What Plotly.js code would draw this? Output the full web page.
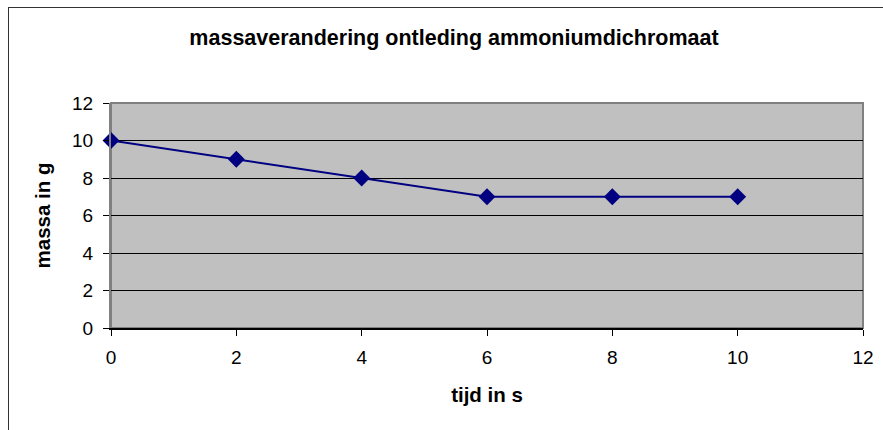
<!DOCTYPE html>
<html>
<head>
<meta charset="utf-8">
<script src="https://cdn.plot.ly/plotly-3.0.1.min.js"></script>
<style>
  html, body { margin: 0; padding: 0; background: #fff; }
  #wrap { position: relative; width: 883px; height: 430px; overflow: hidden; }
  #frame { position: absolute; left: 8px; top: 7px; width: 900px; height: 450px; border: 1.5px solid #333; box-sizing: border-box; }
  #chart { position: absolute; left: 0; top: 0; width: 883px; height: 430px; }
</style>
</head>
<body>
<div id="wrap">
  <div id="frame"></div>
  <div id="chart"></div>
</div>
<script>
const tijd = [0, 2, 4, 6, 8, 10];
const massa = [10, 9, 8, 7, 7, 7];
const chartTitle = "massaverandering ontleding ammoniumdichromaat";
const xTitle = "tijd in s";
const yTitle = "massa in g";

const trace = {
  x: tijd, y: massa, type: 'scatter', mode: 'lines+markers',
  line: { color: '#000080', width: 2 },
  marker: { symbol: 'diamond', size: 13, color: '#000080' },
  cliponaxis: false, hoverinfo: 'none'
};

const font = { family: 'Arial, "Liberation Sans", sans-serif', color: '#000' };

const layout = {
  width: 883, height: 430,
  margin: { l: 111, r: 20, t: 103, b: 102 },
  paper_bgcolor: 'rgba(0,0,0,0)',
  plot_bgcolor: '#C0C0C0',
  showlegend: false,
  font: Object.assign({ size: 19 }, font),
  title: {
    text: '<b>' + chartTitle + '</b>',
    font: Object.assign({ size: 21.5 }, font),
    x: 454 / 883, xanchor: 'center', xref: 'container',
    y: 1 - 37 / 430, yanchor: 'middle', yref: 'container'
  },
  xaxis: {
    range: [0, 12], dtick: 2, tick0: 0,
    ticks: 'outside', ticklen: 6, tickcolor: '#000', tickwidth: 1,
    ticklabelstandoff: 6,
    showgrid: false, zeroline: false,
    showline: true, linecolor: '#000', linewidth: 1.5,
    tickfont: Object.assign({ size: 19 }, font),
    title: { text: '<b>' + xTitle + '</b>', font: Object.assign({ size: 20.5 }, font), standoff: 20 }
  },
  yaxis: {
    range: [0, 12], dtick: 2, tick0: 0,
    ticks: 'outside', ticklen: 6, tickcolor: '#000', tickwidth: 1,
    ticklabelstandoff: 6,
    showgrid: true, gridcolor: '#000', gridwidth: 1,
    zeroline: false,
    showline: true, linecolor: '#808080', linewidth: 2,
    tickfont: Object.assign({ size: 19 }, font),
    title: { text: '<b>' + yTitle + '</b>', font: Object.assign({ size: 20.5 }, font), standoff: 16 }
  },
  shapes: [
    { type: 'rect', xref: 'paper', yref: 'paper', x0: 0, x1: 1, y0: 0, y1: 1,
      line: { color: '#808080', width: 2 }, layer: 'below' }
  ]
};

Plotly.newPlot('chart', [trace], layout, { staticPlot: true });
</script>
</body>
</html>
